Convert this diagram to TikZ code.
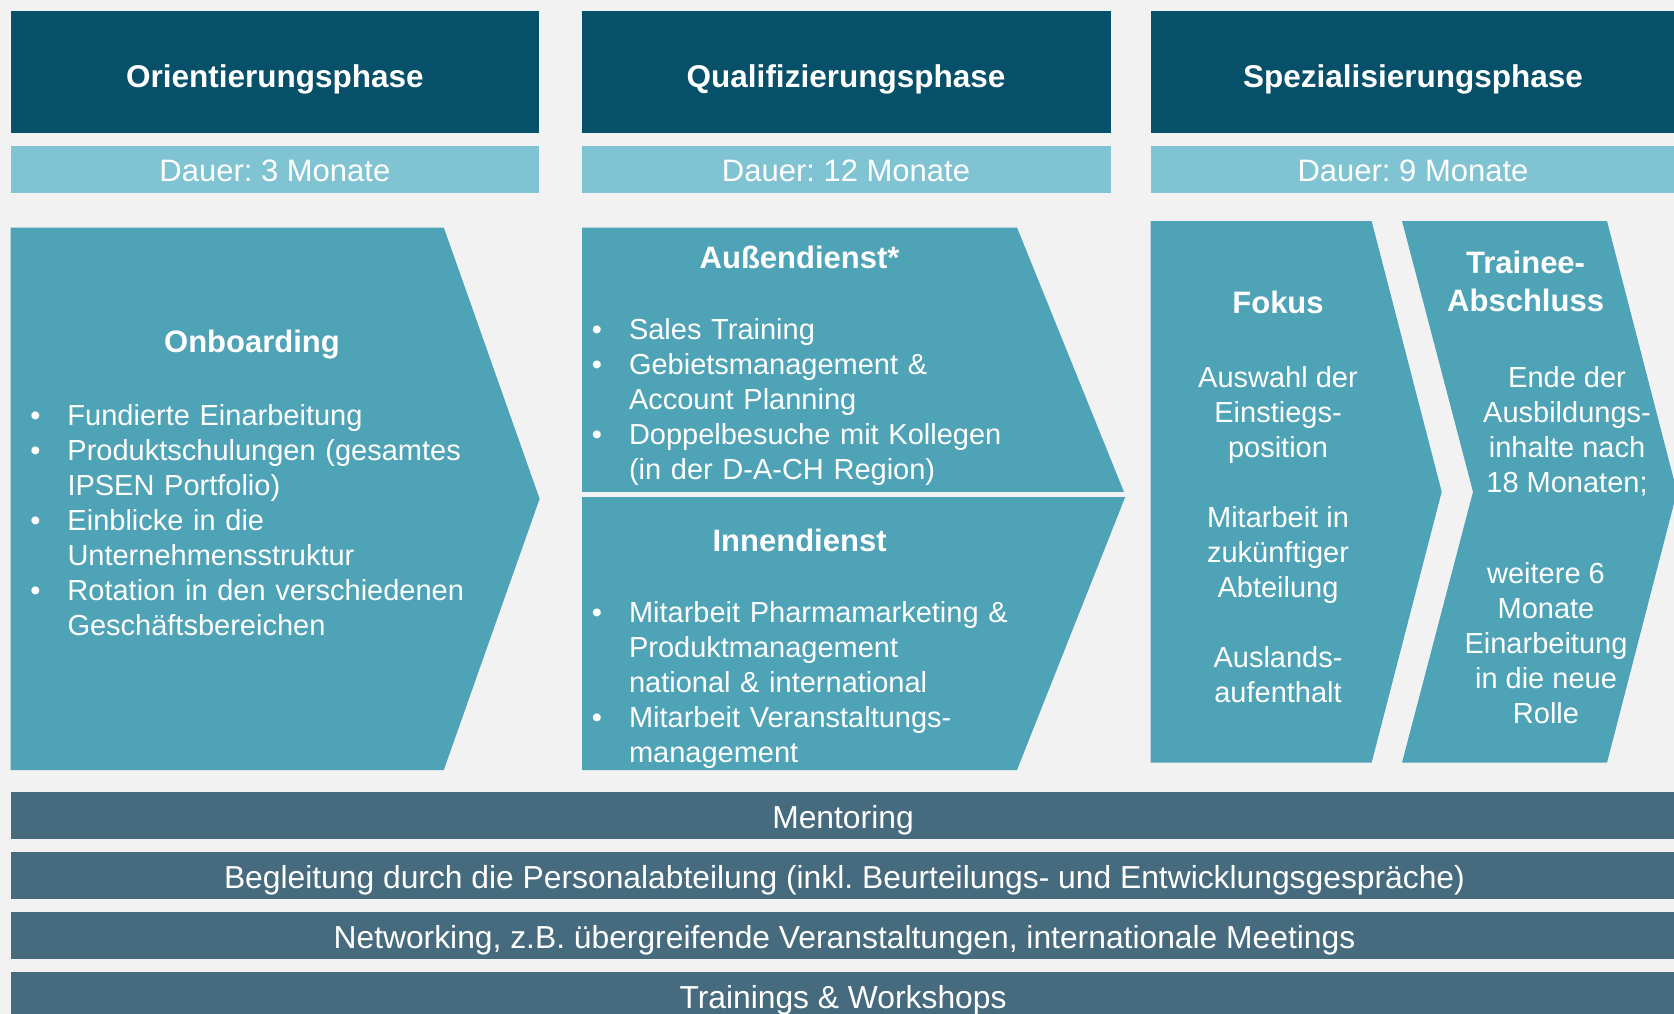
\documentclass[tikz,border=0pt]{standalone}
\usepackage{fontspec}
\setmainfont{Liberation Sans}
\frenchspacing
\definecolor{pagebg}{HTML}{F2F2F2}
\definecolor{phasedark}{HTML}{075069}
\definecolor{dauerlight}{HTML}{80C3D3}
\definecolor{chevteal}{HTML}{4FA3B7}
\definecolor{barslate}{HTML}{476B7E}
\newcommand{\bul}{\strut\llap{\textbullet\hspace{27pt}}}
\tikzset{
  phasebox/.style={fill=phasedark, anchor=north west, inner sep=0pt,
    minimum width=528.3pt, minimum height=122pt},
  dauerbox/.style={fill=dauerlight, anchor=north west, inner sep=0pt,
    minimum width=528.3pt, minimum height=46.6pt},
  barbox/.style={fill=barslate, anchor=north west, inner sep=0pt,
    minimum width=1680pt, minimum height=47.3pt},
  headtxt/.style={anchor=base, text=white, inner sep=0pt,
    font=\bfseries\fontsize{31.5}{37}\selectfont},
  dauertxt/.style={anchor=base, text=white, inner sep=0pt,
    font=\fontsize{31}{37}\selectfont},
  titletxt/.style={anchor=base, text=white, inner sep=0pt,
    font=\bfseries\fontsize{31}{37.4}\selectfont},
  listtxt/.style={anchor=north west, align=left, text width=520pt, text=white,
    inner sep=0pt, font=\fontsize{29}{35}\selectfont},
  centtxt/.style={anchor=north, align=center, text=white, inner sep=0pt,
    font=\fontsize{29}{35}\selectfont},
  bartxt/.style={anchor=base, text=white, inner sep=0pt,
    font=\fontsize{31.8}{37}\selectfont}
}
\begin{document}
\begin{tikzpicture}[x=1pt,y=-1pt]
  \useasboundingbox (0,0) rectangle (1674,1014);
  \fill[pagebg] (0,0) rectangle (1674,1014);
  \clip (0,0) rectangle (1674,1014);

  % phases
  \node[phasebox] (orient) at (10.7,10.7) {};
  \node[phasebox] (quali) at (582,10.7) {};
  \node[phasebox] (spez) at (1151,10.7) {};
  \node[headtxt] (orientT) at (274.9,87.3) {Orientierungsphase};
  \node[headtxt] (qualiT) at (846,87.3) {Qualifizierungsphase};
  \node[headtxt] (spezT) at (1413,87.3) {Spezialisierungsphase};

  \node[dauerbox] (dauerA) at (10.7,145.7) {};
  \node[dauerbox] (dauerB) at (582,145.7) {};
  \node[dauerbox] (dauerC) at (1151,145.7) {};
  \node[dauertxt] (dauerAT) at (274.9,181.6) {Dauer: 3 Monate};
  \node[dauertxt] (dauerBT) at (846,181.6) {Dauer: 12 Monate};
  \node[dauertxt] (dauerCT) at (1413,181.6) {Dauer: 9 Monate};

  % chevrons
  \fill[chevteal] (10.7,227.5) -- (443.8,227.5) -- (539.6,498.8) -- (443.8,770)
    -- (10.7,770) -- cycle;
  \fill[chevteal] (582,227.5) -- (1017,227.5) -- (1125.6,496) -- (1017,770)
    -- (582,770) -- cycle;
  \draw[pagebg, line width=5.5pt] (578,494.5) -- (1132,494.5);
  \fill[chevteal] (1150.5,221) -- (1371.6,221) -- (1441.7,491.8) -- (1371.6,762.7)
    -- (1150.5,762.7) -- cycle;
  \fill[chevteal] (1402,221) -- (1607,221) -- (1677,491.8) -- (1607,762.7)
    -- (1402,762.7) -- (1473,491.8) -- cycle;

  \node[titletxt] (onbT) at (252,352.6) {Onboarding};
  \node[listtxt] (onbL) at (67.3,401) {\bul Fundierte Einarbeitung\\
    \bul Produktschulungen (gesamtes\\ IPSEN Portfolio)\\
    \bul Einblicke in die\\ Unternehmensstruktur\\
    \bul Rotation in den verschiedenen\\ Gesch\"aftsbereichen};

  \node[titletxt] (aussenT) at (799.6,268.3) {Au\ss endienst*};
  \node[listtxt] (aussenL) at (628.8,315) {\bul Sales Training\\
    \bul Gebietsmanagement \&\\ Account Planning\\
    \bul Doppelbesuche mit Kollegen\\ (in der D-A-CH Region)};

  \node[titletxt] (innenT) at (799.6,551) {Innendienst};
  \node[listtxt] (innenL) at (628.8,597.7) {\bul Mitarbeit Pharmamarketing \&\\
    Produktmanagement\\ national \& international\\
    \bul Mitarbeit Veranstaltungs-\\ management};

  \node[titletxt] (fokusT) at (1278,313) {Fokus};
  \node[centtxt] (fokusL) at (1278,362.8) {\strut Auswahl der\\ Einstiegs-\\ position\\[35pt]
    Mitarbeit in\\ zuk\"unftiger\\ Abteilung\\[35pt] Auslands-\\ aufenthalt};

  \node[titletxt, anchor=north, align=center] (traineeT) at (1525.6,247.4)
    {\strut Trainee-\\ Abschluss};
  \node[centtxt] (traineeA) at (1567,363) {\strut Ende der\\ Ausbildungs-\\
    inhalte nach\\ 18 Monaten;};
  \node[centtxt] (traineeB) at (1546,559) {\strut weitere 6\\ Monate\\
    Einarbeitung\\ in die neue\\ Rolle};

  % support bars
  \node[barbox] (mentor) at (11,791.7) {};
  \node[barbox] (hr) at (11,851.7) {};
  \node[barbox] (network) at (11,911.7) {};
  \node[barbox] (training) at (11,971.7) {};
  \node[bartxt] (mentorT) at (843,828.3) {Mentoring};
  \node[bartxt] (hrT) at (844.5,888.3)
    {Begleitung durch die Personalabteilung (inkl. Beurteilungs- und Entwicklungsgespr\"ache)};
  \node[bartxt] (networkT) at (844.5,948.3)
    {Networking, z.B. \"ubergreifende Veranstaltungen, internationale Meetings};
  \node[bartxt] (trainingT) at (843,1008.3) {Trainings \& Workshops};
\end{tikzpicture}
\end{document}
